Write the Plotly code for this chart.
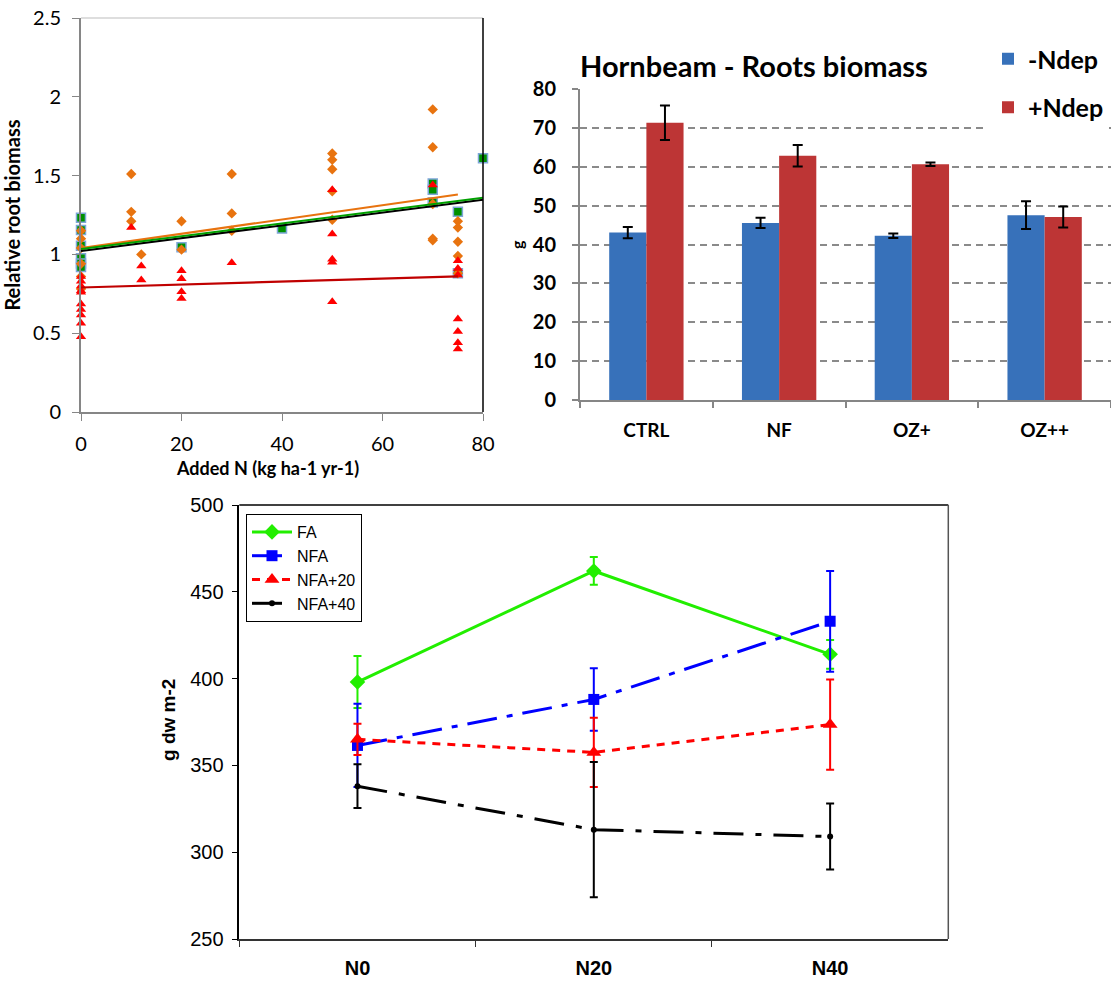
import plotly.graph_objects as go

W, H = 1111, 981

# ---------------- Top-left scatter: relative root biomass ----------------
orange_x = [0, 0, 0, 0, 0, 0, 10, 10, 10, 12, 20, 20, 30, 30, 30,
            50, 50, 50, 50, 50, 70, 70, 70, 70, 70, 75, 75, 75, 75, 75]
orange_y = [1.15, 1.10, 1.04, 0.94, 0.86, 0.78, 1.51, 1.27, 1.21, 1.00, 1.21, 1.03, 1.51, 1.26, 1.15,
            1.64, 1.60, 1.54, 1.40, 1.22, 1.92, 1.68, 1.32, 1.10, 1.09, 1.21, 1.17, 1.08, 0.99, 0.88]

red_x = [0, 0, 0, 0, 0, 0, 0, 0, 0, 0, 10, 12, 12, 20, 20, 20, 20, 30,
         50, 50, 50, 50, 50, 70, 75, 75, 75, 75, 75, 75, 75]
red_y = [0.86, 0.83, 0.80, 0.77, 0.76, 0.685, 0.65, 0.615, 0.563, 0.478, 1.17, 0.926, 0.838,
         0.897, 0.846, 0.763, 0.72, 0.947, 1.41, 1.13, 0.97, 0.95, 0.70, 1.44,
         0.96, 0.91, 0.87, 0.59, 0.51, 0.44, 0.40]

green_x = [0, 0, 0, 0, 0, 0, 20, 40, 70, 70, 70, 75, 75, 80]
green_y = [1.233, 1.155, 1.055, 0.975, 0.943, 0.92, 1.045, 1.165, 1.45, 1.41, 1.33, 1.27, 0.88, 1.61]

trend_orange_x = [0, 75]
trend_orange_y = [1.04, 1.38]
trend_black_x = [0, 80]
trend_black_y = [1.022, 1.347]
trend_green_x = [0, 80]
trend_green_y = [1.034, 1.359]
trend_red_x = [0, 75]
trend_red_y = [0.79, 0.86]

# ---------------- Top-right bars: Hornbeam roots biomass ----------------
bar_cats = ["CTRL", "NF", "OZ+", "OZ++"]
minus_ndep = [43.1, 45.6, 42.3, 47.6]
minus_ndep_err = [1.45, 1.3, 0.6, 3.55]
plus_ndep = [71.4, 62.9, 60.7, 47.1]
plus_ndep_err = [4.45, 2.75, 0.45, 2.7]

# ---------------- Bottom lines: g dw m-2 ----------------
line_cats = ["N0", "N20", "N40"]
fa = [398, 462, 414]
fa_err = [15, 8, 8.3]
nfa = [361.5, 388, 433]
nfa_err = [24, 18, 29]
nfa20 = [365, 357.5, 373.5]
nfa20_err = [9, 20, 26]
nfa40 = [338, 313, 309]
nfa40_err = [12.6, 39, 19]

calibri = "Lato, 'Open Sans', sans-serif"
arial = "'Liberation Sans', Arial, sans-serif"


def dx(px):
    return px / W


def dy(py):
    return 1 - py / H


fig = go.Figure()

# scatter points
fig.add_trace(go.Scatter(x=green_x, y=green_y, mode="markers", xaxis="x", yaxis="y",
                         marker=dict(symbol="square", size=9, color="#009000",
                                     line=dict(color="#7ea6d8", width=1.5)),
                         cliponaxis=False, showlegend=False))
fig.add_trace(go.Scatter(x=orange_x, y=orange_y, mode="markers", xaxis="x", yaxis="y",
                         marker=dict(symbol="diamond", size=8, color="#e8730f"),
                         cliponaxis=False, showlegend=False))
fig.add_trace(go.Scatter(x=red_x, y=red_y, mode="markers", xaxis="x", yaxis="y",
                         marker=dict(symbol="triangle-up", size=9, color="#ff0000"),
                         cliponaxis=False, showlegend=False))
fig.add_trace(go.Scatter(x=trend_orange_x, y=trend_orange_y, mode="lines", xaxis="x", yaxis="y",
                         line=dict(color="#e8730f", width=2.2), showlegend=False))
fig.add_trace(go.Scatter(x=trend_black_x, y=trend_black_y, mode="lines", xaxis="x", yaxis="y",
                         line=dict(color="#000000", width=2), showlegend=False))
fig.add_trace(go.Scatter(x=trend_green_x, y=trend_green_y, mode="lines", xaxis="x", yaxis="y",
                         line=dict(color="#00a000", width=2), showlegend=False))
fig.add_trace(go.Scatter(x=trend_red_x, y=trend_red_y, mode="lines", xaxis="x", yaxis="y",
                         line=dict(color="#c00000", width=2.2), showlegend=False))

# bars
fig.add_trace(go.Bar(x=bar_cats, y=minus_ndep, name="-Ndep", xaxis="x2", yaxis="y2",
                     marker=dict(color="#3771ba", line=dict(width=0)),
                     error_y=dict(type="data", array=minus_ndep_err, color="black",
                                  thickness=2, width=5),
                     legend="legend", legendgroup="a"))
fig.add_trace(go.Bar(x=bar_cats, y=plus_ndep, name="+Ndep", xaxis="x2", yaxis="y2",
                     marker=dict(color="#bd3535", line=dict(width=0)),
                     error_y=dict(type="data", array=plus_ndep_err, color="black",
                                  thickness=2, width=5),
                     legend="legend", legendgroup="b"))

# lines
line_specs = [
    ("FA", fa, fa_err, "#22ee00", "solid", "diamond", 12),
    ("NFA", nfa, nfa_err, "#0000ff", "30px,10px,6px,10px", "square", 11),
    ("NFA+20", nfa20, nfa20_err, "#ff0000", "8px,7px", "triangle-up", 13),
    ("NFA+40", nfa40, nfa40_err, "#000000", "30px,12px,6px,12px", "circle", 6),
]
for name, vals, errs, col, dash, sym, sz in line_specs:
    fig.add_trace(go.Scatter(x=line_cats, y=vals, name=name, mode="lines+markers",
                             xaxis="x3", yaxis="y3",
                             line=dict(color=col, width=3, dash=dash),
                             marker=dict(symbol=sym, size=sz, color=col),
                             error_y=dict(type="data", array=errs, color=col,
                                          thickness=2, width=4),
                             legend="legend2"))

fig.update_layout(
    width=W, height=H,
    margin=dict(l=0, r=0, t=0, b=0, pad=0, autoexpand=False),
    paper_bgcolor="white", plot_bgcolor="white",
    barmode="group", bargap=0.44, bargroupgap=0,
    showlegend=True,
    xaxis=dict(domain=[dx(81), dx(483)], range=[0, 80], anchor="y", automargin=False,
               tickvals=[0, 20, 40, 60, 80], showgrid=False, zeroline=False,
               showline=True, linecolor="#868686", linewidth=2,
               mirror=False, ticks="outside", ticklen=7, tickcolor="#868686", tickwidth=1,
               tickfont=dict(family=calibri, size=20, color="black"),
               ticklabelstandoff=6),
    yaxis=dict(domain=[dy(412), dy(18)], range=[0, 2.5], anchor="x", automargin=False,
               tickvals=[0, 0.5, 1, 1.5, 2, 2.5], ticktext=["0", "0.5", "1", "1.5", "2", "2.5"],
               showgrid=False, zeroline=False,
               showline=True, linecolor="#868686", linewidth=2,
               ticks="outside", ticklen=7, tickcolor="#868686", tickwidth=1,
               tickfont=dict(family=calibri, size=20, color="black"),
               ticklabelstandoff=7,
               title=dict(text="<b>Relative root biomass</b>", standoff=8,
                          font=dict(family=calibri, size=20, color="black"))),
    xaxis2=dict(domain=[dx(580), 1.0], range=[-0.5, 3.5], anchor="y2", automargin=False,
                type="category", showgrid=False, zeroline=False,
                showline=True, linecolor="#868686", linewidth=2,
                ticks="outside", tickson="boundaries", ticklen=6, tickcolor="#868686", tickwidth=2,
                tickfont=dict(family=calibri, size=19, color="black", weight="bold"),
                ticklabelstandoff=12),
    yaxis2=dict(domain=[dy(400), dy(89.3)], range=[0, 80], anchor="x2", automargin=False,
                dtick=10, showgrid=True, gridcolor="#8a8a8a", gridwidth=2, griddash="7px,5px",
                zeroline=False, showline=True, linecolor="#868686", linewidth=2,
                ticks="outside", ticklen=6, tickcolor="#868686", tickwidth=2,
                tickfont=dict(family=calibri, size=20, color="black", weight="bold"),
                ticklabelstandoff=12,
                title=dict(text="<b>g</b>", standoff=5,
                           font=dict(family=calibri, size=16, color="black"))),
    xaxis3=dict(domain=[dx(239.3), dx(948.3)], range=[-0.5, 2.5], anchor="y3", automargin=False,
                type="category", showgrid=False, zeroline=False,
                showline=True, linecolor="#333333", linewidth=2, mirror=False,
                ticks="outside", tickson="boundaries", ticklen=6, tickcolor="#333333", tickwidth=1,
                tickfont=dict(family=arial, size=20, color="black", weight="bold"),
                ticklabelstandoff=10),
    yaxis3=dict(domain=[dy(939), dy(505)], range=[250, 500], anchor="x3", automargin=False,
                dtick=50, showgrid=False, zeroline=False,
                showline=True, linecolor="#000000", linewidth=1.5,
                ticks="outside", ticklen=6, tickcolor="#000000", tickwidth=1,
                tickfont=dict(family=arial, size=20, color="black"),
                ticklabelstandoff=4),
    legend=dict(x=dx(988), y=dy(36), xanchor="left", yanchor="top",
                bgcolor="white", borderwidth=0, tracegroupgap=13,
                font=dict(family=calibri, size=25, color="black", weight="bold"),
                itemwidth=30, traceorder="grouped"),
    legend2=dict(x=dx(246), y=dy(514), xanchor="left", yanchor="top",
                 bgcolor="white", bordercolor="black", borderwidth=1,
                 font=dict(family=arial, size=16, color="black"),
                 itemwidth=40, tracegroupgap=0),
    annotations=[
        dict(text="<b>Hornbeam - Roots biomass</b>", x=dx(578), y=dy(65),
             xref="paper", yref="paper", xanchor="left", yanchor="middle",
             showarrow=False, font=dict(family=calibri, size=29, color="black")),
        dict(text="<b>Added N (kg ha-1 yr-1)</b>", x=dx(267), y=dy(468),
             xref="paper", yref="paper", xanchor="center", yanchor="middle",
             showarrow=False, font=dict(family=calibri, size=18, color="black")),
        dict(text="<b>g dw m-2</b>", x=dx(168), y=dy(720),
             xref="paper", yref="paper", xanchor="center", yanchor="middle",
             textangle=-90, showarrow=False,
             font=dict(family=arial, size=19, color="black")),
    ],
    shapes=[
        dict(type="line", xref="x domain", yref="y domain", x0=0, x1=1, y0=1, y1=1,
             line=dict(color="#bdbdbd", width=1)),
        dict(type="line", xref="x domain", yref="y domain", x0=1, x1=1, y0=0, y1=1,
             line=dict(color="#000000", width=1.5)),
        dict(type="line", xref="x3 domain", yref="y3 domain", x0=0, x1=1, y0=1, y1=1,
             line=dict(color="#000000", width=1.5)),
        dict(type="line", xref="x3 domain", yref="y3 domain", x0=1, x1=1, y0=0, y1=1,
             line=dict(color="#555555", width=1.5)),
    ],
)

fig.write_html("out.html",
               post_script="document.body.style.margin='0';document.body.style.overflow='hidden';")
